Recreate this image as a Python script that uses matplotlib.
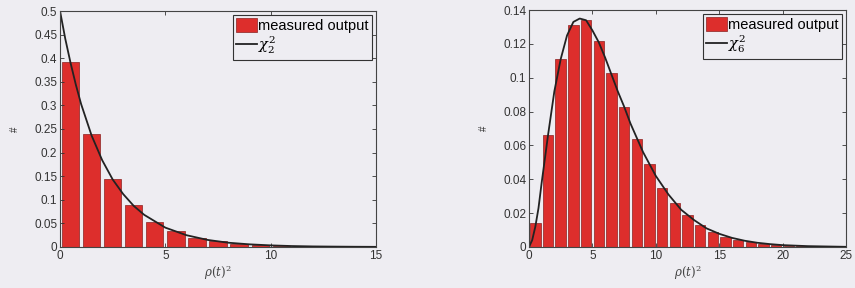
import matplotlib
matplotlib.use("Agg")
import matplotlib.pyplot as plt

# histogram bins (width 1) and densities
left_centers = [i + 0.5 for i in range(15)]
left_heights = [0.393, 0.240, 0.145, 0.088, 0.053, 0.033, 0.020, 0.012,
                0.007, 0.004, 0.003, 0.002, 0.001, 0.0008, 0.0005]
right_centers = [i + 0.5 for i in range(25)]
right_heights = [0.014, 0.066, 0.111, 0.131, 0.134, 0.122, 0.103, 0.083,
                 0.064, 0.049, 0.035, 0.026, 0.019, 0.013, 0.009, 0.006,
                 0.004, 0.003, 0.002, 0.0013, 0.0008, 0.0005, 0.0003,
                 0.0002, 0.0001]

# reference curves
left_curve_x = [0, 0.25, 0.5, 0.75, 1, 1.5, 2, 2.5, 3, 3.5, 4, 5, 6, 7, 8,
                9, 10, 11, 12, 13, 14, 15]
left_curve_y = [0.5, 0.441, 0.39, 0.344, 0.303, 0.236, 0.184, 0.143, 0.112,
                0.087, 0.068, 0.041, 0.025, 0.015, 0.009, 0.0056, 0.0034,
                0.002, 0.0012, 0.0008, 0.0005, 0.0003]
right_curve_x = [0, 0.25, 0.5, 0.75, 1, 1.5, 2, 2.5, 3, 3.5, 4, 4.5, 5, 5.5,
                 6, 6.5, 7, 7.5, 8, 9, 10, 11, 12, 13, 14, 15, 16, 17, 18,
                 19, 20, 22, 25]
right_curve_y = [0, 0.004, 0.012, 0.023, 0.038, 0.066, 0.092, 0.111, 0.125,
                 0.133, 0.135, 0.134, 0.128, 0.121, 0.112, 0.102, 0.092,
                 0.083, 0.073, 0.056, 0.042, 0.031, 0.022, 0.016, 0.011,
                 0.0078, 0.0054, 0.0037, 0.0025, 0.0017, 0.0011, 0.0005,
                 0.0001]

left_yticks = [0, 0.05, 0.1, 0.15, 0.2, 0.25, 0.3, 0.35, 0.4, 0.45, 0.5]
left_ylabels = ['0', '0.05', '0.1', '0.15', '0.2', '0.25', '0.3', '0.35',
                '0.4', '0.45', '0.5']
right_yticks = [0, 0.02, 0.04, 0.06, 0.08, 0.1, 0.12, 0.14]
right_ylabels = ['0', '0.02', '0.04', '0.06', '0.08', '0.1', '0.12', '0.14']

bg = '#eeedf2'
bar_color = '#dd2e2c'
plt.rcParams['font.family'] = ['Liberation Sans', 'DejaVu Sans']
plt.rcParams['mathtext.fontset'] = 'dejavuserif'

fig = plt.figure(figsize=(8.55, 2.88), dpi=100)
fig.patch.set_facecolor(bg)

panels = [
    ([0.0702, 0.1424, 0.3696, 0.8194], left_centers, left_heights,
     left_curve_x, left_curve_y, 15, 0.5, [0, 5, 10, 15],
     left_yticks, left_ylabels, r'$\chi^2_2$'),
    ([0.6187, 0.1424, 0.3708, 0.8226], right_centers, right_heights,
     right_curve_x, right_curve_y, 25, 0.14, [0, 5, 10, 15, 20, 25],
     right_yticks, right_ylabels, r'$\chi^2_6$'),
]

for rect, cx, h, lx, ly, xmax, ymax, xt, yt, yl, chi in panels:
    ax = fig.add_axes(rect)
    ax.set_facecolor(bg)
    bars = ax.bar(cx, h, width=0.82, color=bar_color, edgecolor='#8a2020',
                  linewidth=0.5)
    line, = ax.plot(lx, ly, color='#222222', linewidth=1.3)
    ax.set_xlim(0, xmax)
    ax.set_ylim(0, ymax)
    ax.set_xticks(xt)
    ax.set_yticks(yt)
    ax.set_yticklabels(yl)
    ax.tick_params(direction='in', top=True, right=True, labelsize=8.5,
                   length=3, width=0.6, colors='#333333', pad=2)
    for s in ax.spines.values():
        s.set_linewidth(0.8)
        s.set_color('#444444')
    ax.set_xlabel(r'$\rho(t)^2$', fontsize=8.5, labelpad=1, color='#444444')
    ax.set_ylabel('#', fontsize=7, labelpad=10, color='#333333')
    leg = ax.legend([bars, line], ['measured output', chi], loc='upper right',
                    fontsize=10.5, frameon=True, fancybox=False,
                    borderaxespad=0.25, handlelength=1.4, handleheight=1.1,
                    handletextpad=0.1, borderpad=0.25, labelspacing=0.1)
    leg.get_frame().set_edgecolor('#333333')
    leg.get_frame().set_linewidth(0.8)
    leg.get_frame().set_facecolor(bg)
    leg.get_frame().set_alpha(1)

fig.savefig('out.png', dpi=100, facecolor=bg)
